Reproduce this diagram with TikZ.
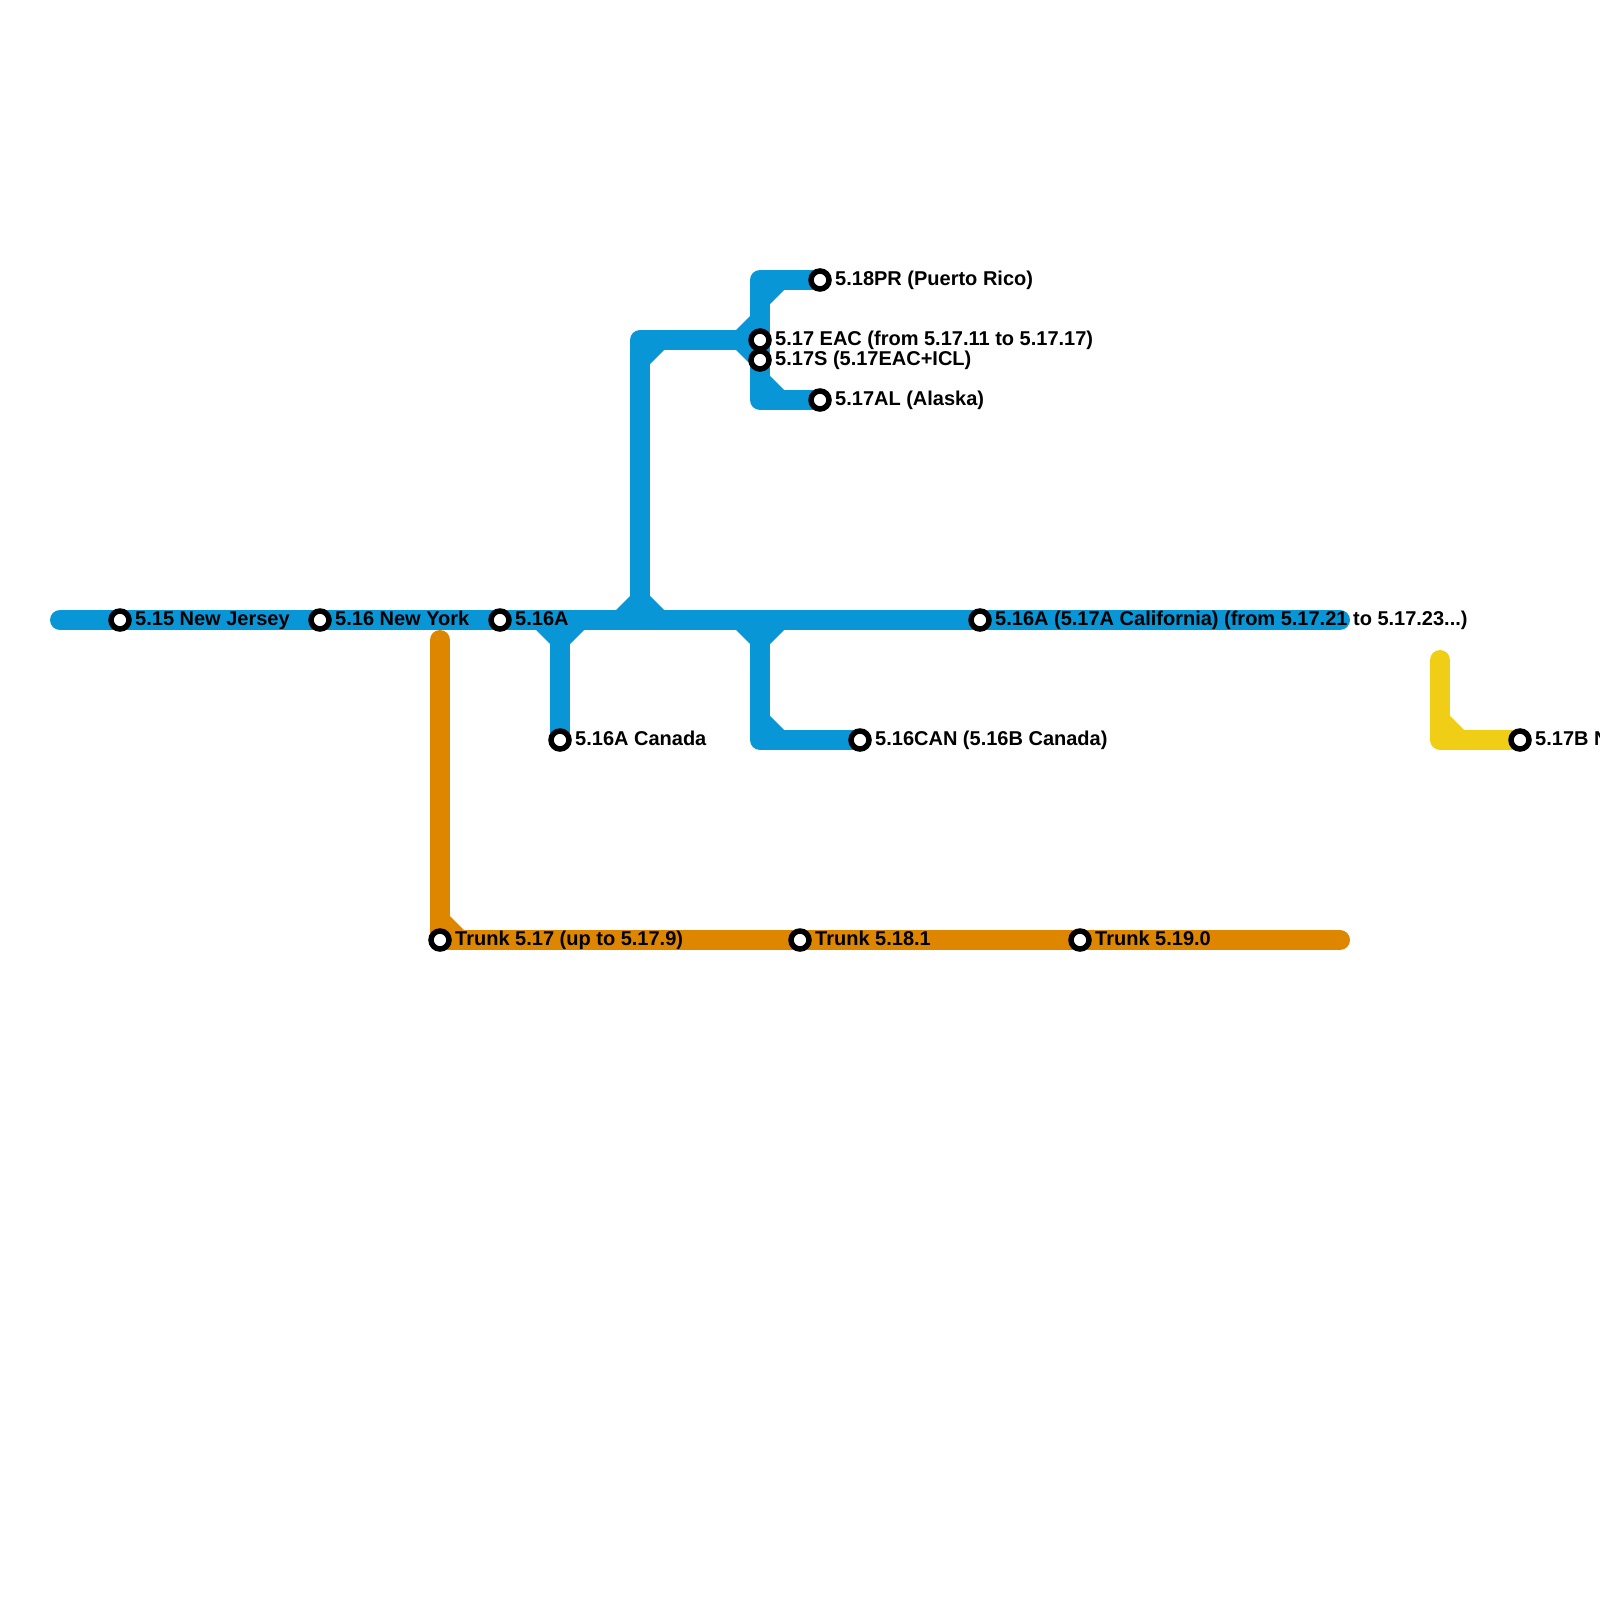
\documentclass[tikz,border=0pt]{standalone}
\usepackage{fontspec}
\setmainfont{Liberation Sans}
\usepackage{xcolor}
\usepackage{tikz}
\usetikzlibrary{backgrounds}
\definecolor{metroblue}{HTML}{0896D7}
\definecolor{metroorange}{HTML}{DF8600}
\definecolor{metroyellow}{HTML}{F0CE15}
\tikzset{
  route/.style={line width=20pt, line join=round, line cap=round},
  station/.style={circle, draw=black, fill=white, line width=5.5pt, minimum size=18pt, inner sep=0pt, outer sep=0pt},
  stationlabel/.style={anchor=base west, inner sep=0pt, font=\fontsize{20}{20}\selectfont\bfseries}
}
\begin{document}
\begin{tikzpicture}[x=1pt, y=-1pt]
  \useasboundingbox (0,0) rectangle (1600,1600);
  \clip (0,0) rectangle (1600,1600);
  % stations and their labels
  \foreach \n/\x/\y/\t in {
    njersey/120/620/{5.15 New Jersey},
    nyork/320/620/{5.16 New York},
    sixa/500/620/{5.16A},
    sixacan/560/740/{5.16A Canada},
    sixcan/860/740/{5.16CAN (5.16B Canada)},
    california/980/620/{5.16A (5.17A California) (from 5.17.21 to 5.17.23...)},
    prico/820/280/{5.18PR (Puerto Rico)},
    eac/760/340/{5.17 EAC (from 5.17.11 to 5.17.17)},
    icl/760/360/{5.17S (5.17EAC+ICL)},
    alaska/820/400/{5.17AL (Alaska)},
    trunkseven/440/940/{Trunk 5.17 (up to 5.17.9)},
    trunkeight/800/940/{Trunk 5.18.1},
    trunknine/1080/940/{Trunk 5.19.0},
    sevenb/1520/740/{5.17B N}
  } {
    \node[station] (\n) at (\x,\y) {};
    \node[stationlabel] (\n-label) at (\x+15,\y+5) {\t};
  }
  \begin{scope}[on background layer]
    % blue routes
    \coordinate (bluestart) at (60,620);
    \coordinate (blueend) at (1340,620);
    \coordinate (upjoin) at (640,620);
    \coordinate (upbend) at (640,340);
    \coordinate (topbend) at (760,280);
    \coordinate (lowbend) at (760,400);
    \coordinate (canjoin) at (560,620);
    \coordinate (cbjoin) at (760,620);
    \coordinate (cbbend) at (760,740);
    \draw[route, metroblue] (bluestart) -- (blueend);
    \draw[route, metroblue] (canjoin) -- (sixacan.center);
    \draw[route, metroblue] (cbjoin) -- (cbbend) -- (sixcan.center);
    \draw[route, metroblue] (upjoin) -- (upbend) -- (eac.center);
    \draw[route, metroblue] (prico.center) -- (topbend) -- (lowbend) -- (alaska.center);
    \foreach \x/\y/\sx/\sy in {650/350/1/1, 770/290/1/1, 750/330/-1/-1, 750/350/-1/1, 770/390/1/-1,
      630/610/-1/-1, 650/610/1/-1, 550/630/-1/1, 570/630/1/1, 750/630/-1/1, 770/630/1/1, 770/730/1/-1}
      \fill[metroblue] (\x,\y) -- ++(14*\sx,0) -- ++(-14*\sx,14*\sy) -- cycle;
    % orange route
    \coordinate (trunktop) at (440,640);
    \coordinate (trunkend) at (1340,940);
    \draw[route, metroorange] (trunktop) -- (trunkseven.center) -- (trunkend);
    \fill[metroorange] (450,930) -- (464,930) -- (450,916) -- cycle;
    % yellow route
    \coordinate (yellowtop) at (1440,660);
    \coordinate (yellowbend) at (1440,740);
    \draw[route, metroyellow] (yellowtop) -- (yellowbend) -- (sevenb.center);
    \fill[metroyellow] (1450,730) -- (1464,730) -- (1450,716) -- cycle;
  \end{scope}
\end{tikzpicture}
\end{document}
